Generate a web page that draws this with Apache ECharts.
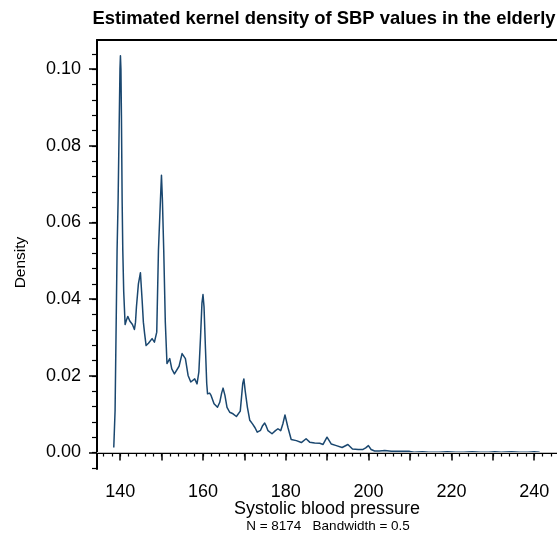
<!DOCTYPE html>
<html>
<head>
<meta charset="utf-8">
<script src="https://cdn.jsdelivr.net/npm/echarts@6/dist/echarts.min.js"></script>
<style>
  html, body { margin: 0; padding: 0; background: #fff; }
  #chart { width: 557px; height: 533px; }
</style>
</head>
<body>
<div id="chart"></div>
<script>
// Kernel density estimate of systolic blood pressure (mmHg) in the elderly
const sbpX = [
  138.45, 138.77, 139.25, 139.5, 139.75, 139.95, 140.06, 140.18, 140.3, 140.47,
  140.63, 140.85, 141.19, 141.5, 141.83, 142.32, 142.64, 142.96, 143.44, 143.7,
  143.92, 144.4, 144.89, 145.3, 145.6, 145.9, 146.26, 146.83, 147.3, 147.7,
  148.27, 148.83, 149.24, 149.72, 149.97, 150.2, 150.52, 150.9, 151.3, 151.97,
  152.46, 153.1, 153.5, 154.22, 154.95, 155.4, 155.75, 156.4, 157.05, 157.45,
  158.0, 158.56, 159.0, 159.4, 159.75, 160.0, 160.25, 160.6, 160.9, 161.1,
  161.6, 161.95, 162.67, 163.5, 164.05, 164.5, 164.85, 165.3, 165.8, 166.45,
  167.25, 168.07, 168.5, 169.0, 169.3, 169.6, 169.87, 170.2, 170.73, 171.3,
  172.0, 172.6, 173.1, 173.9, 174.4, 174.9, 175.3, 175.7, 176.67, 177.5,
  178.1, 178.77, 179.3, 179.8, 180.5, 181.3, 182.55, 183.75, 184.9, 185.77,
  186.97, 188.2, 189.0, 189.95, 191.0, 192.2, 193.6, 195.0, 196.1, 197.5,
  198.65, 199.3, 199.95, 200.6, 201.45, 202.6, 203.9, 205.5, 207.0, 208.5,
  209.9, 211.0, 213.0, 214.5, 217.0, 219.0, 221.0, 223.0, 225.0, 227.0,
  229.0, 230.5, 232.0, 234.5, 236.5, 238.5, 240.0, 241.3
];
const densityY = [
  0.0013, 0.011, 0.0527, 0.0658, 0.085, 0.100, 0.1035, 0.100, 0.088, 0.0658,
  0.0527, 0.042, 0.0334, 0.0345, 0.0355, 0.0343, 0.034, 0.0334, 0.0321, 0.034,
  0.0379, 0.044, 0.0469, 0.0397, 0.034, 0.031, 0.0279, 0.0285, 0.0287, 0.0297,
  0.0288, 0.0314, 0.0527, 0.0658, 0.0723, 0.0658, 0.0527, 0.034, 0.0232, 0.0245,
  0.0218, 0.0205, 0.0200, 0.0225, 0.0258, 0.0256, 0.0245, 0.0201, 0.0184, 0.0188,
  0.0192, 0.0179, 0.021, 0.030, 0.039, 0.0412, 0.038, 0.027, 0.018, 0.0153,
  0.0155, 0.0149, 0.0127, 0.0118, 0.0131, 0.0155, 0.0168, 0.0149, 0.0118, 0.0105,
  0.0101, 0.0094, 0.0096, 0.0108, 0.0144, 0.018, 0.0192, 0.016, 0.0118, 0.0084,
  0.0074, 0.0064, 0.0053, 0.0058, 0.007, 0.0077, 0.0068, 0.0057, 0.0049, 0.0057,
  0.0062, 0.0057, 0.0075, 0.0098, 0.0066, 0.0034, 0.0031, 0.0026, 0.0036, 0.0027,
  0.0025, 0.0024, 0.0021, 0.004, 0.0022, 0.0018, 0.0013, 0.0021, 0.0009, 0.0008,
  0.0008, 0.0012, 0.0018, 0.0008, 0.0004, 0.0004, 0.0005, 0.0003, 0.0003, 0.0003,
  0.0003, 0.0001, 0.0002, 0.0001, 0.0001, 0.0002, 0.0001, 0.0001, 0.0002, 0.0001,
  0.0001, 0.0002, 0.0001, 0.0002, 0.0001, 0.0001, 0.0002, 0.0001
];

// Axis ticks and labels
const xLabelValues = [140, 160, 180, 200, 220, 240];
const xMajorTicks = [140, 150, 160, 170, 180, 190, 200, 210, 220, 230, 240];
const yLabelValues = [0, 0.02, 0.04, 0.06, 0.08, 0.10];
const xMinorTicks = [];
for (let v = 136; v <= 244; v += 2) xMinorTicks.push(v);
const yMinorTicks = [];
for (let k = -1; k <= 26; k++) yMinorTicks.push(+(k * 0.004).toFixed(3));

const X_MIN = 134.4, X_MAX = 245.5;
const Y_MIN = -0.0043, Y_MAX = 0.1076;
const FONT = 'Liberation Sans, Arial, Helvetica, sans-serif';

const chart = echarts.init(document.getElementById('chart'), null, { renderer: 'canvas' });

const baseAxis = {
  type: 'value',
  splitLine: { show: false },
  axisLine: { show: false }
};

chart.setOption({
  animation: false,
  backgroundColor: '#ffffff',
  textStyle: { fontFamily: FONT },
  title: [
    {
      text: 'Estimated kernel density of SBP values in the elderly',
      left: 324, top: 10, textAlign: 'center', padding: 0,
      textStyle: { fontFamily: FONT, fontSize: 18.4, fontWeight: 'bold', color: '#000' }
    },
    {
      text: 'N = 8174   Bandwidth = 0.5',
      left: 328, top: 519, textAlign: 'center', padding: 0,
      textStyle: { fontFamily: FONT, fontSize: 13.5, fontWeight: 'normal', color: '#000' }
    }
  ],
  grid: { left: 97, top: 40, right: 0, bottom: 64, show: false },
  xAxis: [
    Object.assign({}, baseAxis, {
      min: X_MIN, max: X_MAX, position: 'bottom', offset: 0,
      axisLine: { show: true, lineStyle: { color: '#000', width: 2 } },
      axisTick: { show: true, length: 8, customValues: xMajorTicks, lineStyle: { color: '#000', width: 1.5 } },
      axisLabel: { show: true, customValues: xLabelValues, margin: 14, fontSize: 18, color: '#000', fontFamily: FONT },
      name: 'Systolic blood pressure', nameLocation: 'middle', nameGap: 31, nameMoveOverlap: false,
      nameTextStyle: { fontSize: 18, color: '#000', fontFamily: FONT }
    }),
    Object.assign({}, baseAxis, {
      min: X_MIN, max: X_MAX, position: 'bottom', offset: 0,
      axisTick: { show: true, length: 4, customValues: xMinorTicks, lineStyle: { color: '#000', width: 1.2 } },
      axisLabel: { show: false }
    }),
    // top edge of the plot frame
    Object.assign({}, baseAxis, {
      min: X_MIN, max: X_MAX, position: 'top', offset: 0,
      axisLine: { show: true, lineStyle: { color: '#000', width: 2 } },
      axisTick: { show: false },
      axisLabel: { show: false }
    })
  ],
  yAxis: [
    Object.assign({}, baseAxis, {
      min: Y_MIN, max: Y_MAX, position: 'left', offset: 0,
      axisLine: { show: true, lineStyle: { color: '#000', width: 2 } },
      axisTick: { show: true, length: 8, customValues: yLabelValues, lineStyle: { color: '#000', width: 1.5 } },
      axisLabel: {
        show: true, customValues: yLabelValues, margin: 16, fontSize: 18, color: '#000', fontFamily: FONT,
        formatter: v => v.toFixed(2)
      },
      name: 'Density', nameLocation: 'middle', nameGap: 68, nameMoveOverlap: false,
      nameTextStyle: { fontSize: 15.5, color: '#000', fontFamily: FONT, padding: [0, 16, 0, 0] }
    }),
    Object.assign({}, baseAxis, {
      min: Y_MIN, max: Y_MAX, position: 'left', offset: 0,
      axisTick: { show: true, length: 5, customValues: yMinorTicks, lineStyle: { color: '#000', width: 1.2 } },
      axisLabel: { show: false }
    })
  ],
  series: [
    {
      type: 'line',
      xAxisIndex: 0, yAxisIndex: 0,
      data: sbpX.map((x, i) => [x, densityY[i]]),
      showSymbol: false, symbol: 'none', smooth: false,
      lineStyle: { color: '#1a476f', width: 1.5, join: 'round' },
      markLine: {
        silent: true, symbol: 'none', label: { show: false },
        lineStyle: { color: '#bdbdbd', width: 1, type: 'solid' },
        data: [{ yAxis: 0 }]
      }
    }
  ]
});
</script>
</body>
</html>
